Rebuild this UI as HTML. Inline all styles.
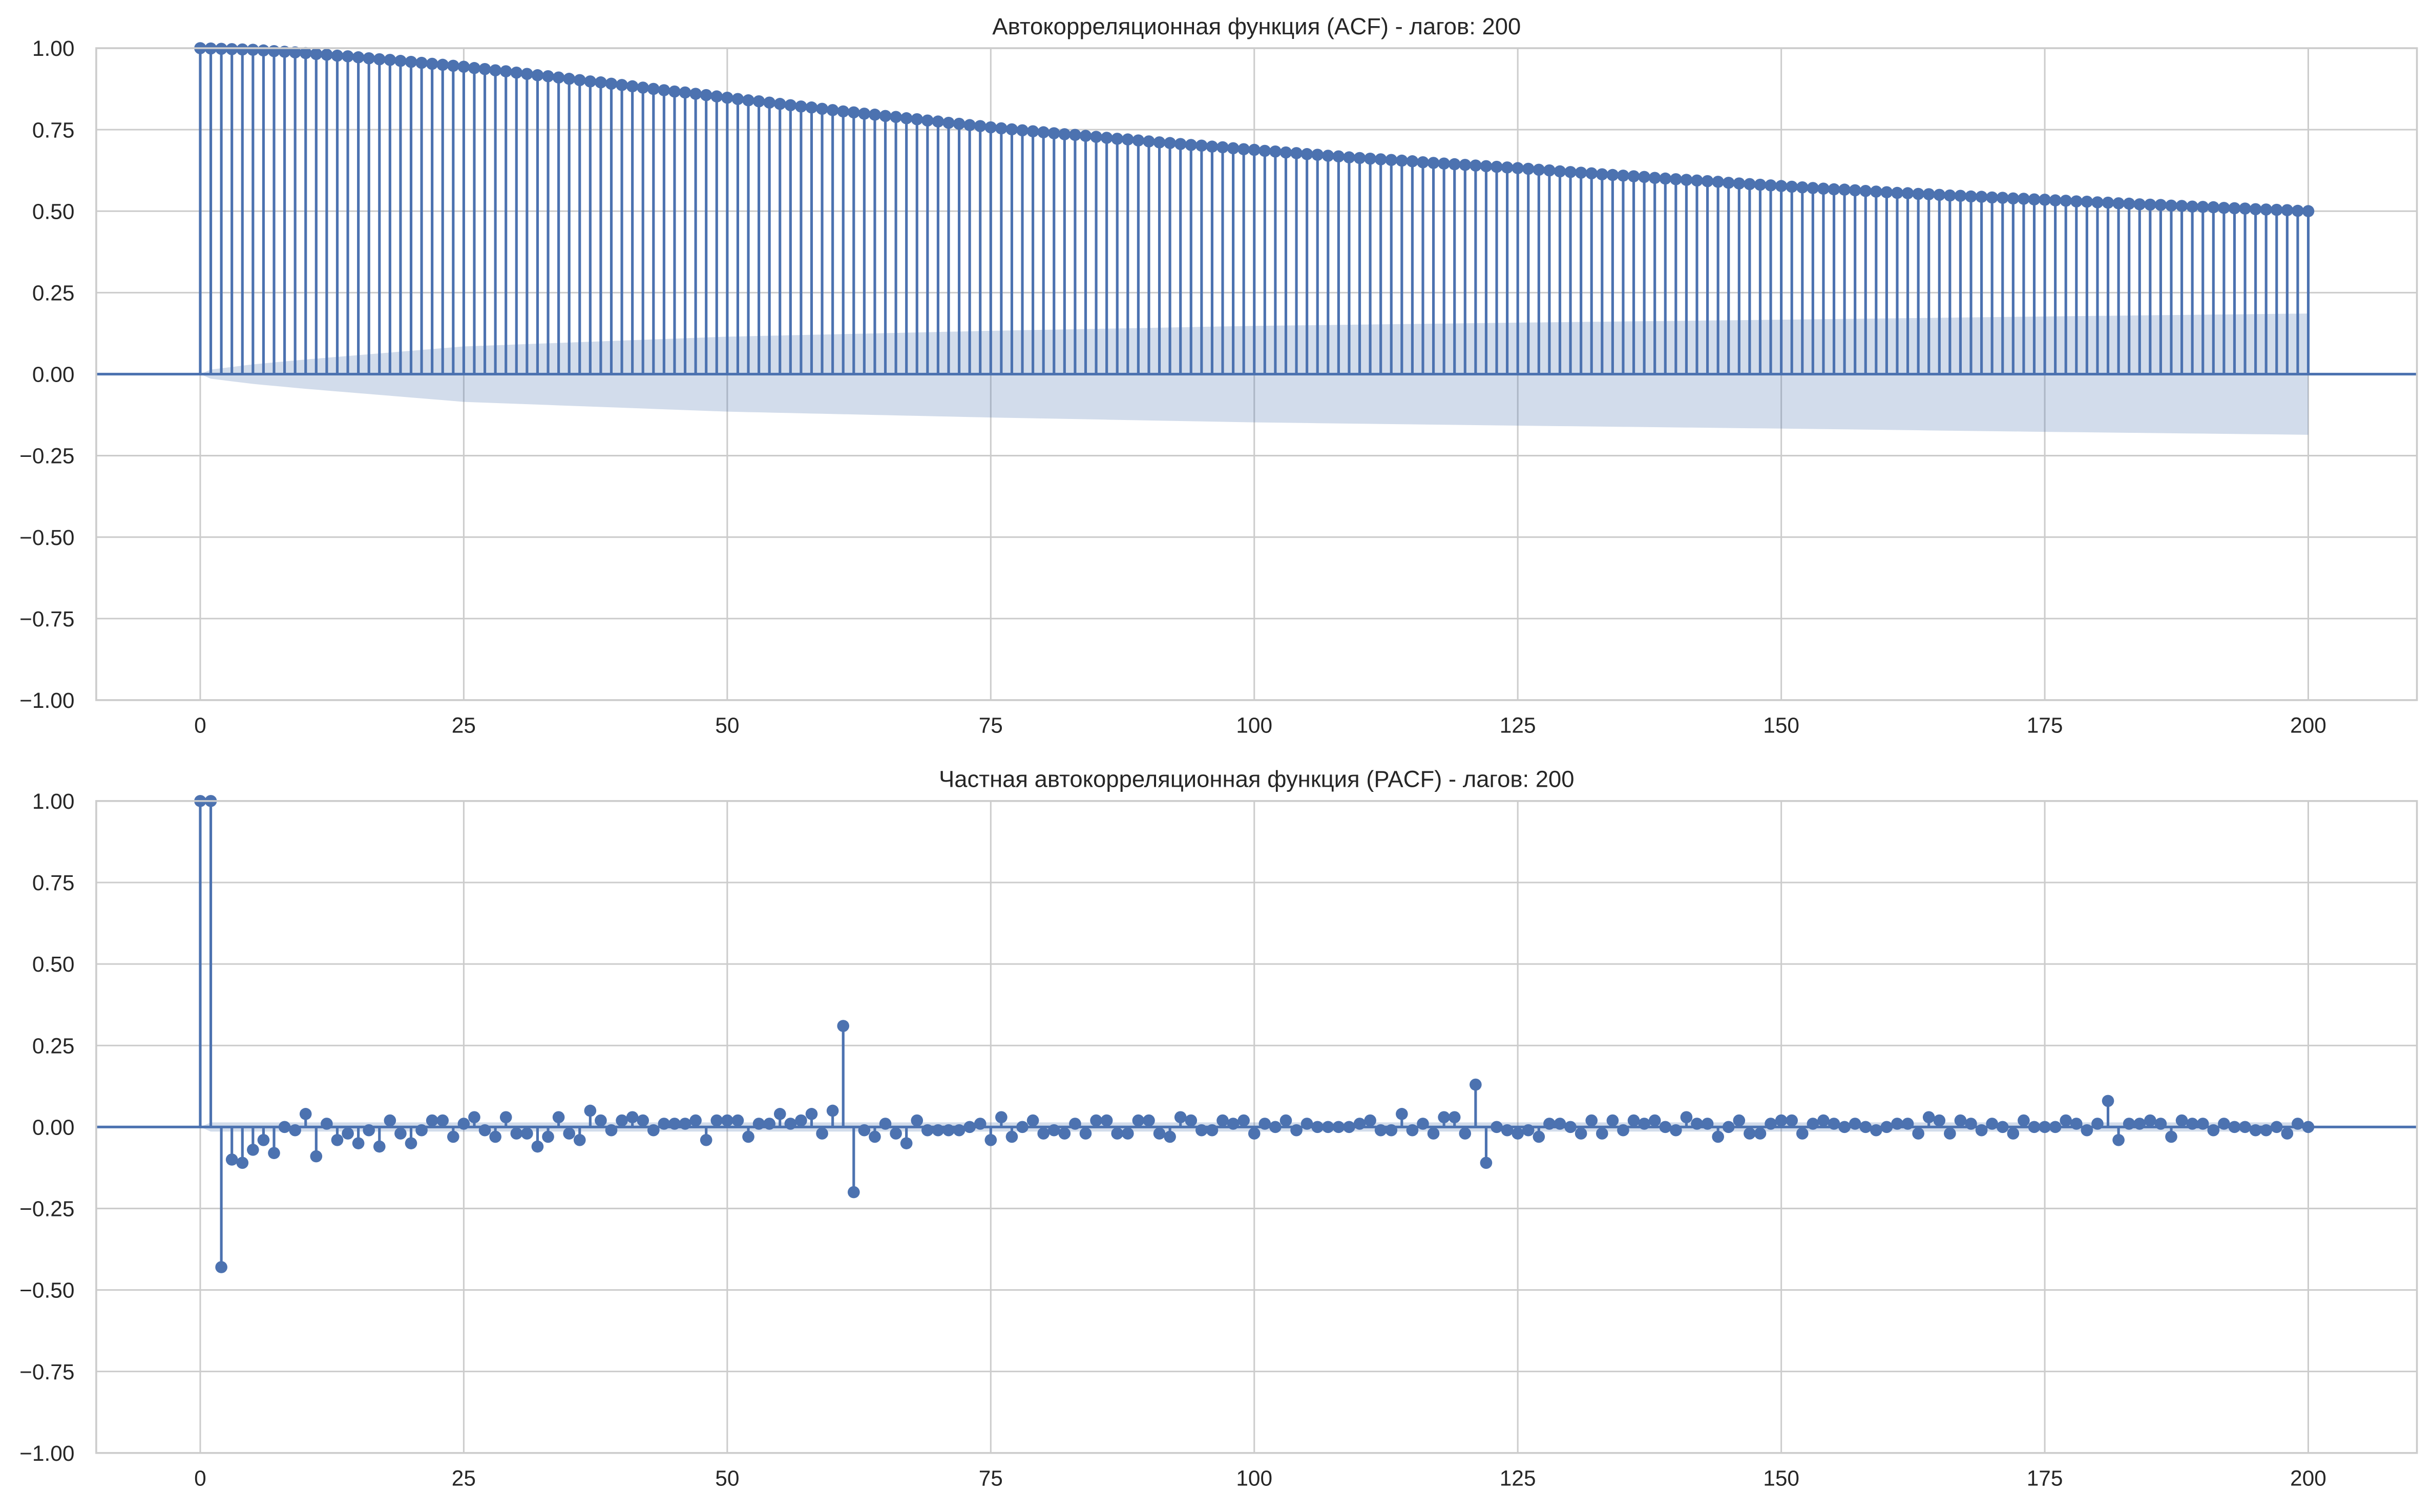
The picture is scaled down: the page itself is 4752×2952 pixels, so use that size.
<!DOCTYPE html>
<html><head><meta charset="utf-8">
<style>
html,body{margin:0;padding:0;background:#fff;}
svg{display:block;}
text{font-family:"Liberation Sans","DejaVu Sans",sans-serif;fill:#262626;}
</style></head>
<body>
<svg id="fig" width="4752" height="2952" viewBox="0 0 1568 974" xmlns="http://www.w3.org/2000/svg">
<rect x="0" y="0" width="1568" height="974" fill="#fff"/>
<g id="acf"></g>
<g id="pacf"></g>
</svg>
<script>
const xTicks=[0,25,50,75,100,125,150,175,200];
const yTicks=[-1,-0.75,-0.5,-0.25,0,0.25,0.5,0.75,1];
const yTickLabels=["\u22121.00","\u22120.75","\u22120.50","\u22120.25","0.00","0.25","0.50","0.75","1.00"];
const acfValues=[1.000,0.999,0.998,0.997,0.996,0.995,0.993,0.991,0.989,0.987,0.985,
.982,.980,.977,.975,.972,.969,.966,.964,.961,.958,
.955,.952,.949,.946,.943,.939,.936,.932,.929,.925,
.921,.917,.914,.910,.906,.902,.898,.895,.891,.887,
.883,.879,.875,.871,.867,.864,.860,.856,.852,.848,
.844,.840,.837,.833,.829,.825,.821,.818,.814,.810,
.806,.803,.799,.796,.792,.789,.785,.782,.778,.775,
.771,.768,.764,.761,.757,.754,.751,.748,.745,.742,
.739,.736,.734,.731,.728,.725,.722,.720,.717,.714,
.711,.709,.706,.703,.701,.698,.696,.693,.690,.688,
.685,.683,.680,.678,.675,.673,.670,.668,.665,.663,
.661,.659,.657,.655,.653,.650,.648,.646,.644,.642,
.640,.638,.636,.634,.632,.630,.627,.625,.622,.620,
.618,.616,.613,.611,.609,.607,.605,.602,.600,.598,
.596,.594,.592,.590,.587,.585,.583,.581,.579,.577,
.575,.573,.571,.569,.567,.566,.564,.562,.560,.558,
.556,.555,.553,.552,.550,.548,.547,.545,.544,.542,
.541,.539,.538,.536,.535,.533,.532,.530,.529,.527,
.526,.524,.523,.521,.520,.519,.517,.516,.514,.513,
.512,.510,.509,.508,.506,.505,.504,.503,.501,.500];
const acfBandLags=[0,1,5,10,25,50,75,100,125,150,175,200];
const acfBandHalf=[0,0.014,0.03,0.045,0.085,0.115,0.133,0.148,0.158,0.167,0.177,0.186];
const pacfValues=[1,1,-0.43,-0.10,-0.11,-0.07,-0.04,-0.08,0.0,-0.01,0.04,-0.09,0.01,-0.04,-0.02,-0.05,-0.01,-0.06,0.02,-0.02,
-0.05,-0.01,0.02,0.02,-0.03,0.01,0.03,-0.01,-0.03,0.03,-0.02,-0.02,-0.06,-0.03,0.03,-0.02,-0.04,0.05,0.02,-0.01,
0.02,0.03,0.02,-0.01,0.01,0.01,0.01,0.02,-0.04,0.02,0.02,0.02,-0.03,0.01,0.01,0.04,0.01,0.02,0.04,-0.02,
0.05,0.31,-0.20,-0.01,-0.03,0.01,-0.02,-0.05,0.02,-0.01,-0.01,-0.01,-0.01,0.0,0.01,-0.04,0.03,-0.03,0.0,0.02,
-0.02,-0.01,-0.02,0.01,-0.02,0.02,0.02,-0.02,-0.02,0.02,0.02,-0.02,-0.03,0.03,0.02,-0.01,-0.01,0.02,0.01,0.02,
-0.02,0.01,0.0,0.02,-0.01,0.01,0.0,0.0,0.0,0.0,0.01,0.02,-0.01,-0.01,0.04,-0.01,0.01,-0.02,0.03,0.03,
-0.02,0.13,-0.11,0.0,-0.01,-0.02,-0.01,-0.03,0.01,0.01,0.0,-0.02,0.02,-0.02,0.02,-0.01,0.02,0.01,0.02,0.0,
-0.01,0.03,0.01,0.01,-0.03,0.0,0.02,-0.02,-0.02,0.01,0.02,0.02,-0.02,0.01,0.02,0.01,0.0,0.01,0.0,-0.01,
0.0,0.01,0.01,-0.02,0.03,0.02,-0.02,0.02,0.01,-0.01,0.01,0.0,-0.02,0.02,0.0,0.0,0.0,0.02,0.01,-0.01,
0.01,0.08,-0.04,0.01,0.01,0.02,0.01,-0.03,0.02,0.01,0.01,-0.01,0.01,0.0,0.0,-0.01,-0.01,0.0,-0.02,0.01,0.0];
const pacfBandHalf=0.014;

const NS="http://www.w3.org/2000/svg";
const C="#4c72b0";
function mk(tag,attrs,parent){const e=document.createElementNS(NS,tag);for(const k in attrs)e.setAttribute(k,attrs[k]);parent.appendChild(e);return e;}
const L=62,R=1557;
function xs(l){return 129+l*(1487-129)/200;}

function panel(g,top,bottom,title,values,bandFn,prefix){
  const ys=v=>(top+bottom)/2 - v*(bottom-top)/2;
  yTicks.forEach((t,i)=>{
    const ln=mk('line',{x1:L,x2:R,y1:ys(t),y2:ys(t),stroke:'#cccccc','stroke-width':1},g);
    
    
    const tx=mk('text',{x:L-14,y:ys(t)+5,'text-anchor':'end','font-size':14},g);
    tx.textContent=yTickLabels[i];
    
    
  });
  xTicks.forEach(t=>{
    const ln=mk('line',{x1:xs(t),x2:xs(t),y1:top,y2:bottom,stroke:'#cccccc','stroke-width':1},g);
    
    
    const tx=mk('text',{x:xs(t),y:bottom+21,'text-anchor':'middle','font-size':14},g);
    tx.textContent=t;
    
    
  });
  const pts=[];
  for(let l=0;l<values.length;l++){pts.push([l,bandFn(l)]);}
  let d='M'+pts.map(p=>xs(p[0])+','+ys(p[1])).join(' L');
  d+=' L'+pts.slice().reverse().map(p=>xs(p[0])+','+ys(-p[1])).join(' L')+'Z';
  const band=mk('path',{d:d,fill:C,'fill-opacity':0.25,stroke:'none'},g);
  
  
  const z=mk('line',{x1:L,x2:R,y1:ys(0),y2:ys(0),stroke:C,'stroke-width':1.7},g);
  
  
  values.forEach((v,l)=>{
    const s=mk('line',{x1:xs(l),x2:xs(l),y1:ys(0),y2:ys(v),stroke:C,'stroke-width':1.7},g);
    
    
  });
  values.forEach((v,l)=>{
    const c=mk('circle',{cx:xs(l),cy:ys(v),r:3.9,fill:C},g);
    
    
  });
  const fr=mk('rect',{x:L,y:top,width:R-L,height:bottom-top,fill:'none',stroke:'#cccccc','stroke-width':1.2},g);
  
  
  const tt=mk('text',{x:(L+R)/2,y:top-9,'text-anchor':'middle','font-size':15},g);
  tt.textContent=title;
  
  
}
function acfBand(l){
  for(let i=1;i<acfBandLags.length;i++){
    if(l<=acfBandLags[i]){const a=acfBandLags[i-1],b=acfBandLags[i];const t=(l-a)/(b-a);return acfBandHalf[i-1]+t*(acfBandHalf[i]-acfBandHalf[i-1]);}
  }
  return acfBandHalf[acfBandHalf.length-1];
}
panel(document.getElementById('acf'),31,451,'Автокорреляционная функция (ACF) - лагов: 200',acfValues,acfBand,'acf');
panel(document.getElementById('pacf'),516,936,'Частная автокорреляционная функция (PACF) - лагов: 200',pacfValues,l=>l===0?0:pacfBandHalf,'pacf');
</script>
</body></html>
